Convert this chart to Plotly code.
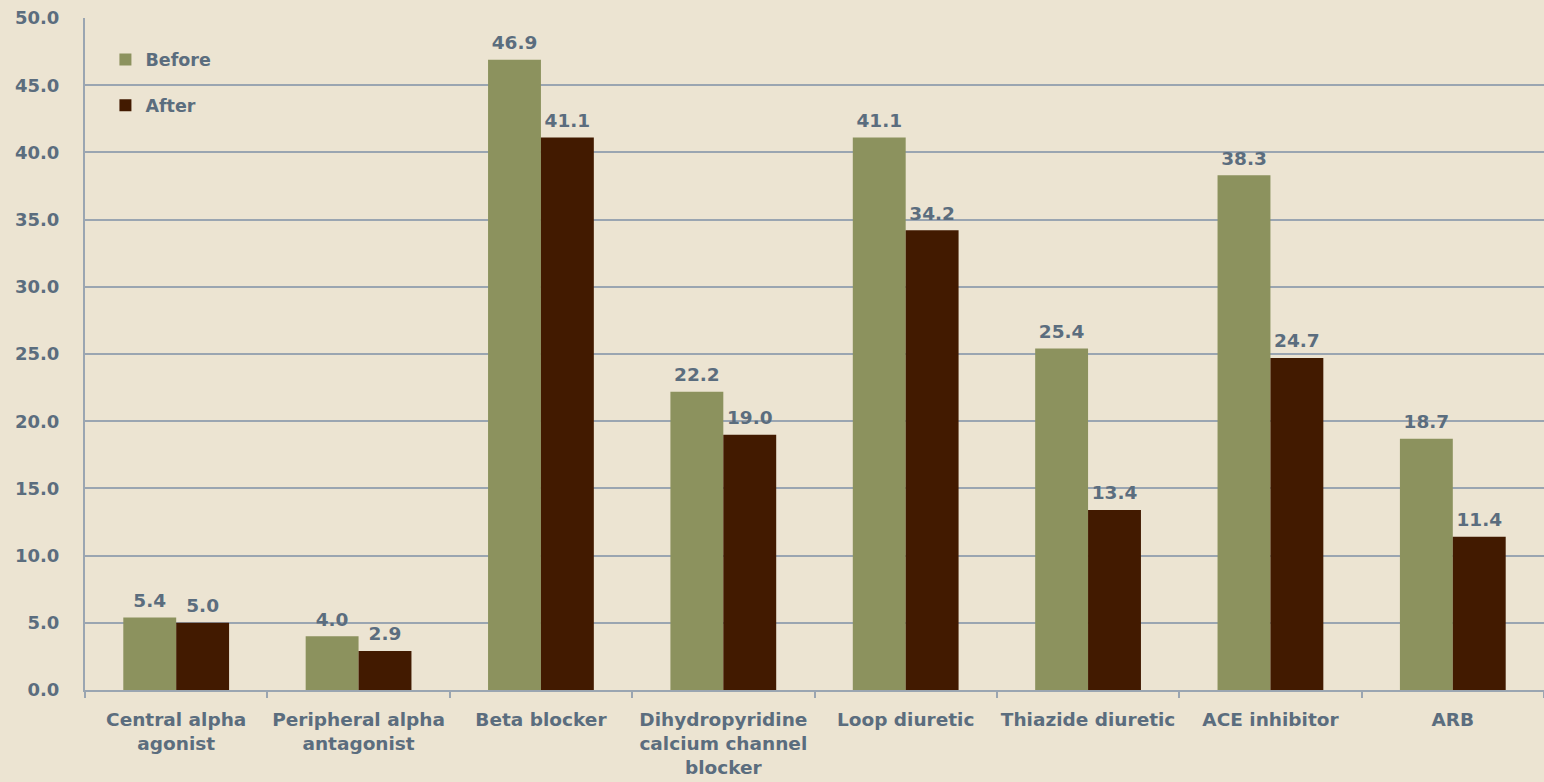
import plotly.graph_objects as go

categories = ["Central alpha<br>agonist", "Peripheral alpha<br>antagonist", "Beta blocker",
              "Dihydropyridine<br>calcium channel<br>blocker", "Loop diuretic",
              "Thiazide diuretic", "ACE inhibitor", "ARB"]
before = [5.4, 4.0, 46.9, 22.2, 41.1, 25.4, 38.3, 18.7]
after = [5.0, 2.9, 41.1, 19.0, 34.2, 13.4, 24.7, 11.4]

TXT = "#5b6d7e"
FONT = "DejaVu Sans"
lblfont = dict(color=TXT, size=18.5, family=FONT, weight="bold")

fig = go.Figure()
fig.add_trace(go.Bar(name="Before", x=categories, y=before, marker_color="#8c925e",
                     marker_line_width=0, offsetgroup="b", legendgroup="b"))
fig.add_trace(go.Bar(name="After", x=categories, y=after, marker_color="#421a00",
                     marker_line_width=0, offsetgroup="a", legendgroup="a"))
for vals, grp in ((before, "b"), (after, "a")):
    fig.add_trace(go.Scatter(x=categories, y=vals, mode="markers+text", offsetgroup=grp,
                             text=[f"{v:.1f}" for v in vals], textposition="top center",
                             textfont=lblfont, marker=dict(size=8, color="rgba(0,0,0,0)"),
                             showlegend=False, hoverinfo="skip", cliponaxis=False))

fig.update_layout(
    width=1544, height=782,
    margin=dict(l=85, r=0, t=18, b=92),
    paper_bgcolor="#ece4d2", plot_bgcolor="#ece4d2",
    barmode="group", bargap=0.42, bargroupgap=0,
    scattermode="group", scattergap=0.42,
    font=dict(family=FONT, color=TXT, size=17, weight="bold"),
    showlegend=True,
    legend=dict(x=0.014, y=0.965, xanchor="left", yanchor="top", bgcolor="rgba(0,0,0,0)",
                font=dict(size=17.5, color=TXT, family=FONT, weight="bold"),
                traceorder="grouped", tracegroupgap=20, itemwidth=30),
)
fig.update_yaxes(range=[0, 50], dtick=5, tickformat=".1f", showgrid=True,
                 gridcolor="#9aa5b1", gridwidth=2, zeroline=False,
                 showline=True, linecolor="#9aa5b1", linewidth=2,
                 ticks="", ticklen=0, tickfont=dict(size=18, color=TXT, family=FONT, weight="bold"),
                 ticklabelstandoff=20)
fig.update_xaxes(showline=True, linecolor="#9aa5b1", linewidth=2, ticks="outside",
                 tickson="boundaries", ticklen=6, tickwidth=2, tickcolor="#9aa5b1",
                 tickfont=dict(size=18.5, color=TXT, family=FONT, weight="bold"),
                 tickangle=0, ticklabelstandoff=12)

fig.write_html("out.html")
